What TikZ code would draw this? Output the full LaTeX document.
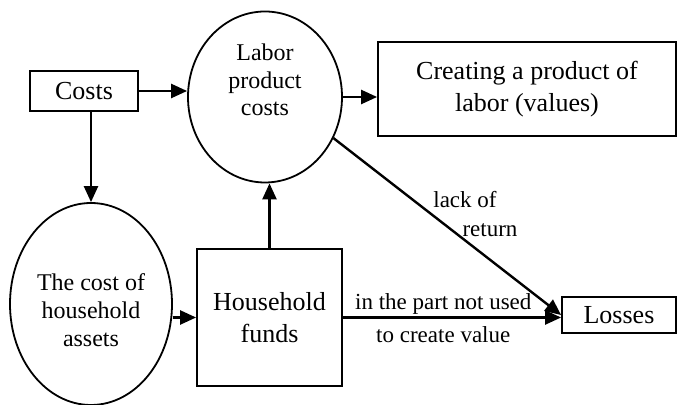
\documentclass[tikz,border=0pt]{standalone}
\usepackage{fontspec}
\setmainfont{Liberation Serif}
\usetikzlibrary{arrows.meta,shapes.geometric,positioning}

\begin{document}
\begin{tikzpicture}[x=0.5pt,y=-0.5pt,
    box/.style={draw, line width=0.9pt, inner sep=0pt, align=center, font=\fontsize{13}{16}\selectfont},
    oval/.style={draw, ellipse, line width=0.9pt, inner sep=0pt},
    ovaltext/.style={align=center, font=\fontsize{12}{14}\selectfont},
    lbl/.style={font=\fontsize{11.5}{13}\selectfont, inner sep=1pt},
    arr/.style={-{Triangle[length=8pt,width=7pt]}, line width=1.2pt}]
  \useasboundingbox (0,0) rectangle (677,405);
  % boxes
  \node[box, minimum width=54pt, minimum height=20pt] (costs) at (84,91) {Costs};
  \node[box, minimum width=149pt, minimum height=47pt] (creating) at (527,89) {Creating a product of\\labor (values)};
  \node[box, minimum width=72.5pt, minimum height=68.5pt] (funds) at (269.5,317.5) {Household\\funds};
  \node[box, minimum width=57pt, minimum height=18pt] (losses) at (619,315) {Losses};
  % ellipses
  \node[oval, minimum width=77pt, minimum height=85.5pt] (labor) at (265,97) {};
  \node[ovaltext, font=\fontsize{12}{13.75}\selectfont] (labortxt) at (265,80) {Labor\\product\\costs};
  \node[oval, minimum width=81pt, minimum height=101pt] (assets) at (91,304) {};
  \node[ovaltext] (assetstxt) at (91,310) {The cost of\\household\\assets};
  % arrows
  \draw[arr] (costs.east) -- (costs.east -| labor.west);
  \draw[arr] (labor.east) -- (labor.east -| creating.west);
  \draw[arr] (costs.south -| assets.north) -- (assets.north);
  \draw[arr] (funds.north) -- (funds.north |- labor.south);
  \draw[arr] (assets.east |- funds.west) -- (funds.west);
  \draw[arr] (funds.east) -- (funds.east -| losses.west)
    node[lbl, above, pos=0.46] (partlbl) {in the part not used}
    node[lbl, below=3pt, pos=0.46] (valuelbl) {to create value};
  \draw[arr] (labor.-31) -- (losses.west);
  \node[lbl] (lackof) at (465,200) {lack of};
  \node[lbl] (returnlbl) at (490,230) {return};
\end{tikzpicture}
\end{document}
